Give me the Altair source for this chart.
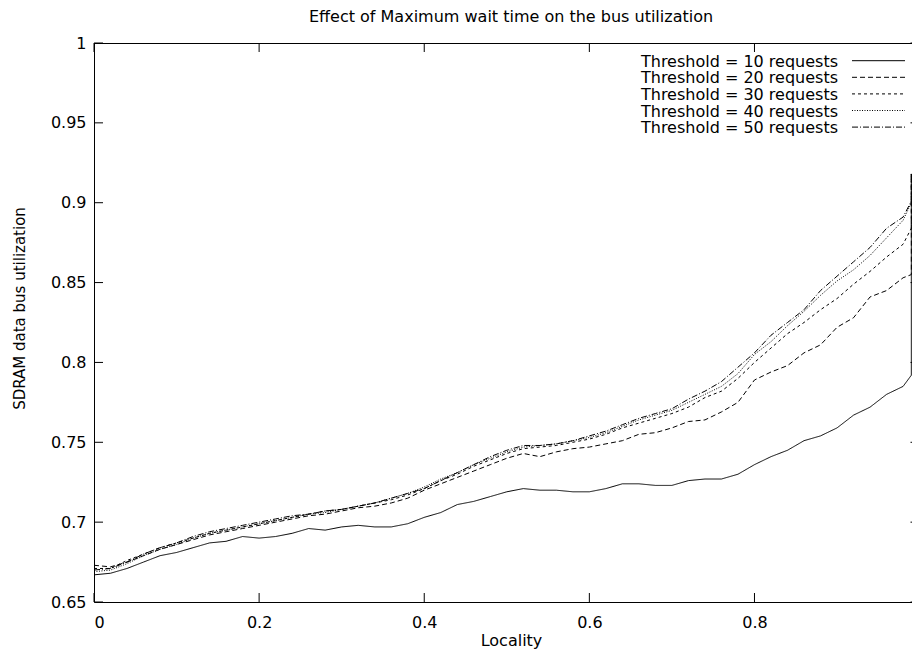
import altair as alt
import pandas as pd

# ---------------- data ----------------
x_vals = [0.00, 0.02, 0.04, 0.06, 0.08, 0.10, 0.12, 0.14, 0.16, 0.18,
          0.20, 0.22, 0.24, 0.26, 0.28, 0.30, 0.32, 0.34, 0.36, 0.38,
          0.40, 0.42, 0.44, 0.46, 0.48, 0.50, 0.52, 0.54, 0.56, 0.58,
          0.60, 0.62, 0.64, 0.66, 0.68, 0.70, 0.72, 0.74, 0.76, 0.78,
          0.80, 0.82, 0.84, 0.86, 0.88, 0.90, 0.92, 0.94, 0.96, 0.98,
          0.99, 0.99]

names = ["Threshold = 10 requests", "Threshold = 20 requests",
         "Threshold = 30 requests", "Threshold = 40 requests",
         "Threshold = 50 requests"]

s10 = [0.667, 0.668, 0.671, 0.675, 0.679, 0.681, 0.684, 0.687, 0.688, 0.691,
       0.690, 0.691, 0.693, 0.696, 0.695, 0.697, 0.698, 0.697, 0.697, 0.699,
       0.703, 0.706, 0.711, 0.713, 0.716, 0.719, 0.721, 0.720, 0.720, 0.719,
       0.719, 0.721, 0.724, 0.724, 0.723, 0.723, 0.726, 0.727, 0.727, 0.730,
       0.736, 0.741, 0.745, 0.751, 0.754, 0.759, 0.767, 0.772, 0.780, 0.785,
       0.792, 0.918]

s20 = [0.673, 0.672, 0.675, 0.679, 0.683, 0.686, 0.689, 0.692, 0.694, 0.696,
       0.698, 0.700, 0.702, 0.704, 0.705, 0.707, 0.709, 0.710, 0.712, 0.715,
       0.720, 0.724, 0.728, 0.732, 0.736, 0.740, 0.743, 0.741, 0.744, 0.746,
       0.747, 0.749, 0.751, 0.755, 0.756, 0.759, 0.763, 0.764, 0.769, 0.775,
       0.789, 0.794, 0.798, 0.806, 0.811, 0.822, 0.828, 0.841, 0.845, 0.853,
       0.855, 0.918]

s30 = [0.671, 0.671, 0.676, 0.680, 0.684, 0.687, 0.690, 0.693, 0.695, 0.697,
       0.699, 0.701, 0.703, 0.705, 0.707, 0.708, 0.710, 0.712, 0.714, 0.717,
       0.721, 0.726, 0.730, 0.735, 0.739, 0.743, 0.746, 0.747, 0.748, 0.750,
       0.752, 0.755, 0.759, 0.762, 0.765, 0.768, 0.772, 0.778, 0.782, 0.790,
       0.800, 0.809, 0.818, 0.825, 0.833, 0.840, 0.849, 0.857, 0.866, 0.874,
       0.884, 0.918]

s40 = [0.669, 0.670, 0.674, 0.679, 0.683, 0.686, 0.690, 0.693, 0.695, 0.697,
       0.699, 0.701, 0.703, 0.705, 0.706, 0.708, 0.710, 0.712, 0.715, 0.718,
       0.722, 0.727, 0.731, 0.736, 0.740, 0.744, 0.747, 0.748, 0.749, 0.751,
       0.753, 0.756, 0.760, 0.764, 0.767, 0.770, 0.775, 0.780, 0.785, 0.793,
       0.805, 0.813, 0.823, 0.832, 0.842, 0.851, 0.858, 0.867, 0.878, 0.889,
       0.900, 0.918]

s50 = [0.670, 0.671, 0.675, 0.680, 0.684, 0.687, 0.691, 0.694, 0.696, 0.698,
       0.700, 0.702, 0.704, 0.705, 0.707, 0.708, 0.710, 0.712, 0.715, 0.718,
       0.721, 0.726, 0.731, 0.736, 0.741, 0.745, 0.748, 0.748, 0.749, 0.751,
       0.754, 0.757, 0.761, 0.765, 0.768, 0.771, 0.777, 0.782, 0.788, 0.797,
       0.806, 0.817, 0.825, 0.833, 0.845, 0.854, 0.863, 0.872, 0.884, 0.891,
       0.901, 0.918]

series = [s10, s20, s30, s40, s50]

x_ticks = [0, 0.2, 0.4, 0.6, 0.8]
y_ticks = [0.65, 0.7, 0.75, 0.8, 0.85, 0.9, 0.95, 1.0]

title_text = "Effect of Maximum wait time on the bus utilization"

# ---------------- styling ----------------
FONT = "DejaVu Sans"
dashes = [[1, 0], [5, 3], [3, 3], [1, 1.5], [6, 2, 1, 2]]
W, H = 818, 559
TICK = 9

rows = []
for name, vals in zip(names, series):
    for i, (xv, yv) in enumerate(zip(x_vals, vals)):
        rows.append({"series": name, "x": xv, "v": yv, "i": i})
df = pd.DataFrame(rows)

xscale = alt.Scale(domain=[0, 0.9908], nice=False, zero=False)
yscale = alt.Scale(domain=[0.65, 1.0], nice=False, zero=False)

lines = alt.Chart(df).mark_line(color="black", strokeWidth=1, clip=True).encode(
    x=alt.X("x:Q", scale=xscale,
            axis=alt.Axis(values=x_ticks, format="~g", title="Locality",
                          ticks=False, tickSize=0, labelPadding=12, grid=False,
                          domainColor="black", titleY=43, titleX=417,
                          titleBaseline="alphabetic")),
    y=alt.Y("v:Q", scale=yscale,
            axis=alt.Axis(values=y_ticks, format="~g",
                          title="SDRAM data bus utilization",
                          ticks=False, tickSize=0, labelPadding=8, grid=False,
                          domainColor="black", titleX=-70, titleY=265,
                          titleAngle=-90, titleBaseline="alphabetic",
                          titleFontSize=15)),
    strokeDash=alt.StrokeDash("series:N",
                              scale=alt.Scale(domain=names, range=dashes),
                              legend=None),
    order=alt.Order("i:Q"),
)

xt = pd.DataFrame({"x": x_ticks})
yt = pd.DataFrame({"v": y_ticks})

xt_bottom = alt.Chart(xt).mark_rule(color="black", strokeWidth=1).encode(
    x=alt.X("x:Q", scale=xscale),
    y=alt.value(H), y2=alt.value(H - TICK))
xt_top = alt.Chart(xt).mark_rule(color="black", strokeWidth=1).encode(
    x=alt.X("x:Q", scale=xscale),
    y=alt.value(0), y2=alt.value(TICK))
yt_left = alt.Chart(yt).mark_rule(color="black", strokeWidth=1).encode(
    y=alt.Y("v:Q", scale=yscale),
    x=alt.value(0), x2=alt.value(TICK))
yt_right = alt.Chart(yt).mark_rule(color="black", strokeWidth=1).encode(
    y=alt.Y("v:Q", scale=yscale),
    x=alt.value(W - 1.5), x2=alt.value(W))
top_border = alt.Chart(alt.Data(values=[{"b": 1}])).mark_rule(
    color="black", strokeWidth=1).encode(
    x=alt.value(0), x2=alt.value(W), y=alt.value(0.5))

title_layer = alt.Chart(alt.Data(values=[{"t": title_text}])).mark_text(
    align="center", baseline="alphabetic", font=FONT, fontSize=16,
    color="black").encode(text="t:N", x=alt.value(417), y=alt.value(-21))

legend_layers = []
for k, name in enumerate(names):
    base_y = 23.7 + 16.6 * k
    src = alt.Data(values=[{"label": name}])
    legend_layers.append(
        alt.Chart(src).mark_text(align="right", baseline="alphabetic",
                                 font=FONT, fontSize=16, color="black").encode(
            text="label:N", x=alt.value(744), y=alt.value(base_y)))
    legend_layers.append(
        alt.Chart(src).mark_rule(color="black", strokeWidth=1).encode(
            x=alt.value(758), x2=alt.value(811), y=alt.value(base_y - 6),
            strokeDash=alt.value(dashes[k])))

chart = alt.layer(
    lines, xt_bottom, xt_top, yt_left, yt_right, top_border, title_layer,
    *legend_layers
).properties(
    width=W, height=H,
    autosize=alt.AutoSizeParams(type="none"),
    padding={"left": 86, "top": 35, "right": 0, "bottom": 47},
).configure_view(stroke=None).configure_axis(
    labelFont=FONT, labelFontSize=16, labelColor="black",
    titleFont=FONT, titleFontSize=16, titleFontWeight="normal",
    titleColor="black", domainWidth=1,
)

chart.save("out.html", embed_options={"renderer": "svg", "actions": False})
